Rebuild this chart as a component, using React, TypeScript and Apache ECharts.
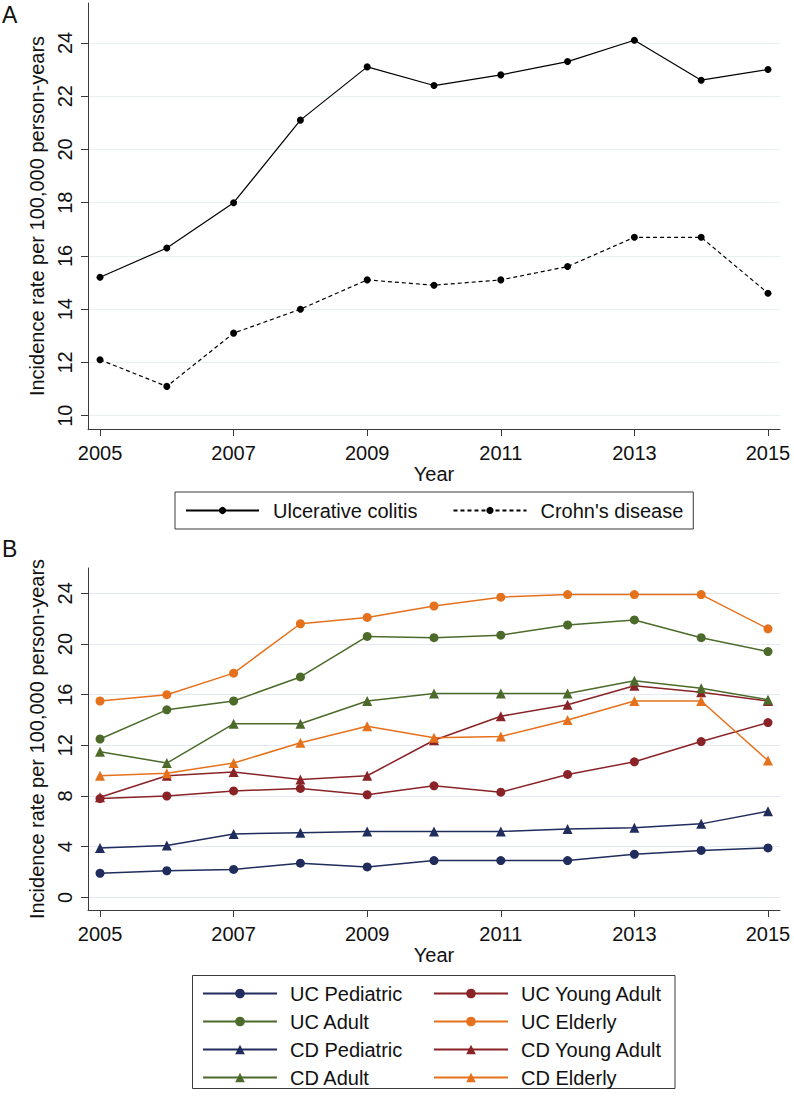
import React, { useEffect, useRef } from "react";
import * as echarts from "echarts";

const years = [2005, 2006, 2007, 2008, 2009, 2010, 2011, 2012, 2013, 2014, 2015];
const xTickYears = [2005, 2007, 2009, 2011, 2013, 2015];
const aTicks = [10, 12, 14, 16, 18, 20, 22, 24];
const bTicks = [0, 4, 8, 12, 16, 20, 24];

// Panel A
const ulcerativeColitis = [15.2, 16.3, 18.0, 21.1, 23.1, 22.4, 22.8, 23.3, 24.1, 22.6, 23.0];
const crohnsDisease = [12.1, 11.1, 13.1, 14.0, 15.1, 14.9, 15.1, 15.6, 16.7, 16.7, 14.6];

// Panel B
const ucPediatric = [1.9, 2.1, 2.2, 2.7, 2.4, 2.9, 2.9, 2.9, 3.4, 3.7, 3.9];
const ucYoungAdult = [7.8, 8.0, 8.4, 8.6, 8.1, 8.8, 8.3, 9.7, 10.7, 12.3, 13.8];
const ucAdult = [12.5, 14.8, 15.5, 17.4, 20.6, 20.5, 20.7, 21.5, 21.9, 20.5, 19.4];
const ucElderly = [15.5, 16.0, 17.7, 21.6, 22.1, 23.0, 23.7, 23.9, 23.9, 23.9, 21.2];
const cdPediatric = [3.9, 4.1, 5.0, 5.1, 5.2, 5.2, 5.2, 5.4, 5.5, 5.8, 6.8];
const cdYoungAdult = [7.9, 9.6, 9.9, 9.3, 9.6, 12.4, 14.3, 15.2, 16.7, 16.2, 15.5];
const cdAdult = [11.5, 10.6, 13.7, 13.7, 15.5, 16.1, 16.1, 16.1, 17.1, 16.5, 15.6];
const cdElderly = [9.6, 9.8, 10.6, 12.2, 13.5, 12.6, 12.7, 14.0, 15.5, 15.5, 10.8];

const legendLeft = ["UC Pediatric", "UC Adult", "CD Pediatric", "CD Adult"];
const legendRight = ["UC Young Adult", "UC Elderly", "CD Young Adult", "CD Elderly"];

const FONT = "'Liberation Sans', Arial, sans-serif";
const TEXT = "#111111";
const AXIS = "#3a3a3a";
const NAVY = "#1f2c5c";
const MAROON = "#8a2327";
const GREEN = "#4c6b2b";
const ORANGE = "#e6711c";

const pairs = (vals: number[]) => years.map((y, i) => [y, vals[i]]);

function makeX(gridIndex: number) {
  return {
    gridIndex,
    type: "value",
    min: 2004.82,
    max: 2015.18,
    axisLine: { show: true, onZero: false, lineStyle: { color: AXIS, width: 1 } },
    axisTick: { show: true, length: 7, customValues: xTickYears, lineStyle: { color: AXIS } },
    axisLabel: {
      customValues: xTickYears,
      margin: 14,
      fontSize: 20,
      color: TEXT,
      fontFamily: FONT,
      formatter: (v: number) => String(v),
    },
    splitLine: { show: false },
    name: "Year",
    nameLocation: "middle",
    nameGap: 32,
    nameTextStyle: { fontSize: 20, color: TEXT, fontFamily: FONT },
  };
}

function makeY(gridIndex: number, min: number, max: number, ticks: number[], grid: string) {
  return {
    gridIndex,
    type: "value",
    min,
    max,
    axisLine: { show: true, onZero: false, lineStyle: { color: AXIS, width: 1 } },
    axisTick: { show: true, length: 7, customValues: ticks, lineStyle: { color: AXIS } },
    axisLabel: {
      customValues: ticks,
      rotate: 90,
      margin: 13,
      fontSize: 20,
      color: TEXT,
      fontFamily: FONT,
      formatter: (v: number) => String(v),
    },
    splitLine: { show: true, lineStyle: { color: grid, width: 1 } },
    name: "Incidence rate per 100,000 person-years",
    nameLocation: "middle",
    nameGap: 35,
    nameTextStyle: { fontSize: 20, color: TEXT, fontFamily: FONT },
  };
}

function bSeries(name: string, vals: number[], color: string, symbol: string) {
  return {
    type: "line",
    name,
    xAxisIndex: 1,
    yAxisIndex: 1,
    data: pairs(vals),
    symbol,
    symbolSize: symbol === "triangle" ? 10 : 9,
    lineStyle: { color, width: 1.5 },
    itemStyle: { color },
  };
}

export default function App() {
  const ref = useRef<HTMLDivElement>(null);
  useEffect(() => {
    document.body.style.margin = "0";
    if (!ref.current) return;
    const chart = echarts.init(ref.current, undefined, { renderer: "svg" });
    const legendText = {
      fontSize: 20,
      lineHeight: 23,
      color: TEXT,
      fontFamily: FONT,
      padding: [0, 0, 0, 8],
    };
    chart.setOption({
      animation: false,
      backgroundColor: "#ffffff",
      textStyle: { fontFamily: FONT },
      title: [
        { text: "A", left: 2, top: 3, padding: 0, textStyle: { fontSize: 23, fontWeight: "normal", color: TEXT, fontFamily: FONT } },
        { text: "B", left: 2, top: 537, padding: 0, textStyle: { fontSize: 23, fontWeight: "normal", color: TEXT, fontFamily: FONT } },
      ],
      grid: [
        { left: 88, top: 3, width: 692, height: 426 },
        { left: 88, top: 568, width: 692, height: 342 },
      ],
      xAxis: [makeX(0), makeX(1)],
      yAxis: [
        makeY(0, 9.5, 25.5, aTicks, "#e8f0f2"),
        makeY(1, -1, 26, bTicks, "#e3e8f4"),
      ],
      legend: [
        {
          data: ["Ulcerative colitis", "Crohn's disease"],
          orient: "horizontal",
          left: 175,
          top: 492,
          itemWidth: 73,
          itemHeight: 9,
          itemGap: 35,
          padding: [7, 10, 7, 10],
          borderColor: AXIS,
          borderWidth: 1,
          textStyle: { ...legendText, padding: [0, 0, 0, 9] },
          selectedMode: false,
        },
        {
          data: legendLeft,
          orient: "vertical",
          left: 202,
          top: 982,
          itemWidth: 74,
          itemHeight: 12,
          itemGap: 5,
          padding: 0,
          textStyle: legendText,
          selectedMode: false,
        },
        {
          data: legendRight,
          orient: "vertical",
          left: 433,
          top: 982,
          itemWidth: 74,
          itemHeight: 12,
          itemGap: 5,
          padding: 0,
          textStyle: legendText,
          selectedMode: false,
        },
      ],
      graphic: [
        {
          type: "rect",
          shape: { x: 192.5, y: 975.5, width: 482.5, height: 113 },
          style: { fill: "none", stroke: AXIS, lineWidth: 1 },
          silent: true,
        },
      ],
      series: [
        {
          type: "line",
          name: "Ulcerative colitis",
          xAxisIndex: 0,
          yAxisIndex: 0,
          data: pairs(ulcerativeColitis),
          symbol: "circle",
          symbolSize: 7,
          lineStyle: { color: "#000", width: 1.2 },
          itemStyle: { color: "#000" },
        },
        {
          type: "line",
          name: "Crohn's disease",
          xAxisIndex: 0,
          yAxisIndex: 0,
          data: pairs(crohnsDisease),
          symbol: "circle",
          symbolSize: 7,
          lineStyle: { color: "#000", width: 1.2, type: [4, 3] },
          itemStyle: { color: "#000" },
        },
        bSeries("UC Pediatric", ucPediatric, NAVY, "circle"),
        bSeries("UC Young Adult", ucYoungAdult, MAROON, "circle"),
        bSeries("UC Adult", ucAdult, GREEN, "circle"),
        bSeries("UC Elderly", ucElderly, ORANGE, "circle"),
        bSeries("CD Pediatric", cdPediatric, NAVY, "triangle"),
        bSeries("CD Young Adult", cdYoungAdult, MAROON, "triangle"),
        bSeries("CD Adult", cdAdult, GREEN, "triangle"),
        bSeries("CD Elderly", cdElderly, ORANGE, "triangle"),
      ],
    });
    return () => chart.dispose();
  }, []);
  return <div ref={ref} style={{ width: 794, height: 1098 }} />;
}
